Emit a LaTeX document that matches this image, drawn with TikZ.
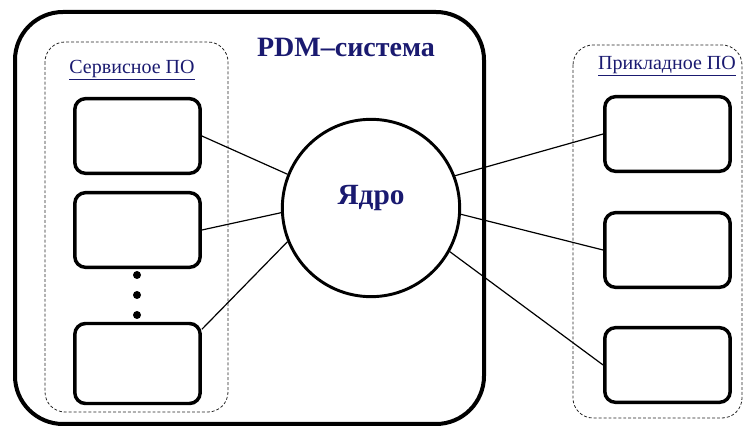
\documentclass[tikz,border=0pt]{standalone}
\usepackage{fontspec}
\setmainfont{Liberation Serif}
\usetikzlibrary{positioning}
\definecolor{pdmnavy}{RGB}{26,26,112}
\tikzset{
	modbox/.style={rectangle, draw=black, line width=2.6pt, rounded corners=8pt, minimum width=94pt, minimum height=56pt},
	grpbox/.style={draw=black!85, dash pattern=on 2.2pt off 1.5pt, line width=0.6pt, rounded corners=15pt},
	corecircle/.style={circle, draw=black, line width=2.2pt, minimum size=133pt, inner sep=0pt},
	link/.style={line width=0.9pt},
	titletext/.style={text=pdmnavy, font=\bfseries\fontsize{21}{25}\selectfont},
	grplabel/.style={text=pdmnavy, font=\fontsize{15}{17}\selectfont}
}

\begin{document}
\begin{tikzpicture}[x=0.75pt,y=-0.75pt]
	\useasboundingbox (0,0) rectangle (743,427);
	% system frame and groups
	\draw [line width=3pt, rounded corners=36pt] (15,12) rectangle (484,424);
	\draw [grpbox] (45,42) rectangle (228,412);
	\draw [grpbox] (573,45) rectangle (742,418);
	
	\node[titletext] (title) at (346,47) {PDM--система};
	\node[grplabel] (srvlabel) at (132,70) {\underline{Сервисное ПО}};
	\node[grplabel] (applabel) at (667,66) {\underline{Прикладное ПО}};
	
	% core
	\node[corecircle] (core) at (371,208) {};
	\node[titletext, font=\bfseries\fontsize{22}{26}\selectfont] (corelabel) at (371,198) {Ядро};
	
	% service modules
	\node[modbox] (srv1) at (137.5,136) {};
	\node[modbox] (srv2) at (137.5,230) {};
	\node[modbox, minimum height=60pt] (srv3) at (137.5,363.5) {};
	\fill (137,275) circle (3pt);
	\fill (137,295) circle (3pt);
	\fill (137,315) circle (3pt);
	
	% application modules
	\node[modbox] (app1) at (667.5,134) {};
	\node[modbox] (app2) at (667.5,250) {};
	\node[modbox] (app3) at (667.5,365) {};
	
	\draw[link] (srv1.east) -- (core.158);
	\draw[link] (srv2.east) -- (core.183);
	\draw[link] (srv3.28) -- (core.202);
	\draw[link] (core.21) -- (app1.west);
	\draw[link] (core.356) -- (app2.west);
	\draw[link] (core.331) -- (app3.west);
\end{tikzpicture}
\end{document}
